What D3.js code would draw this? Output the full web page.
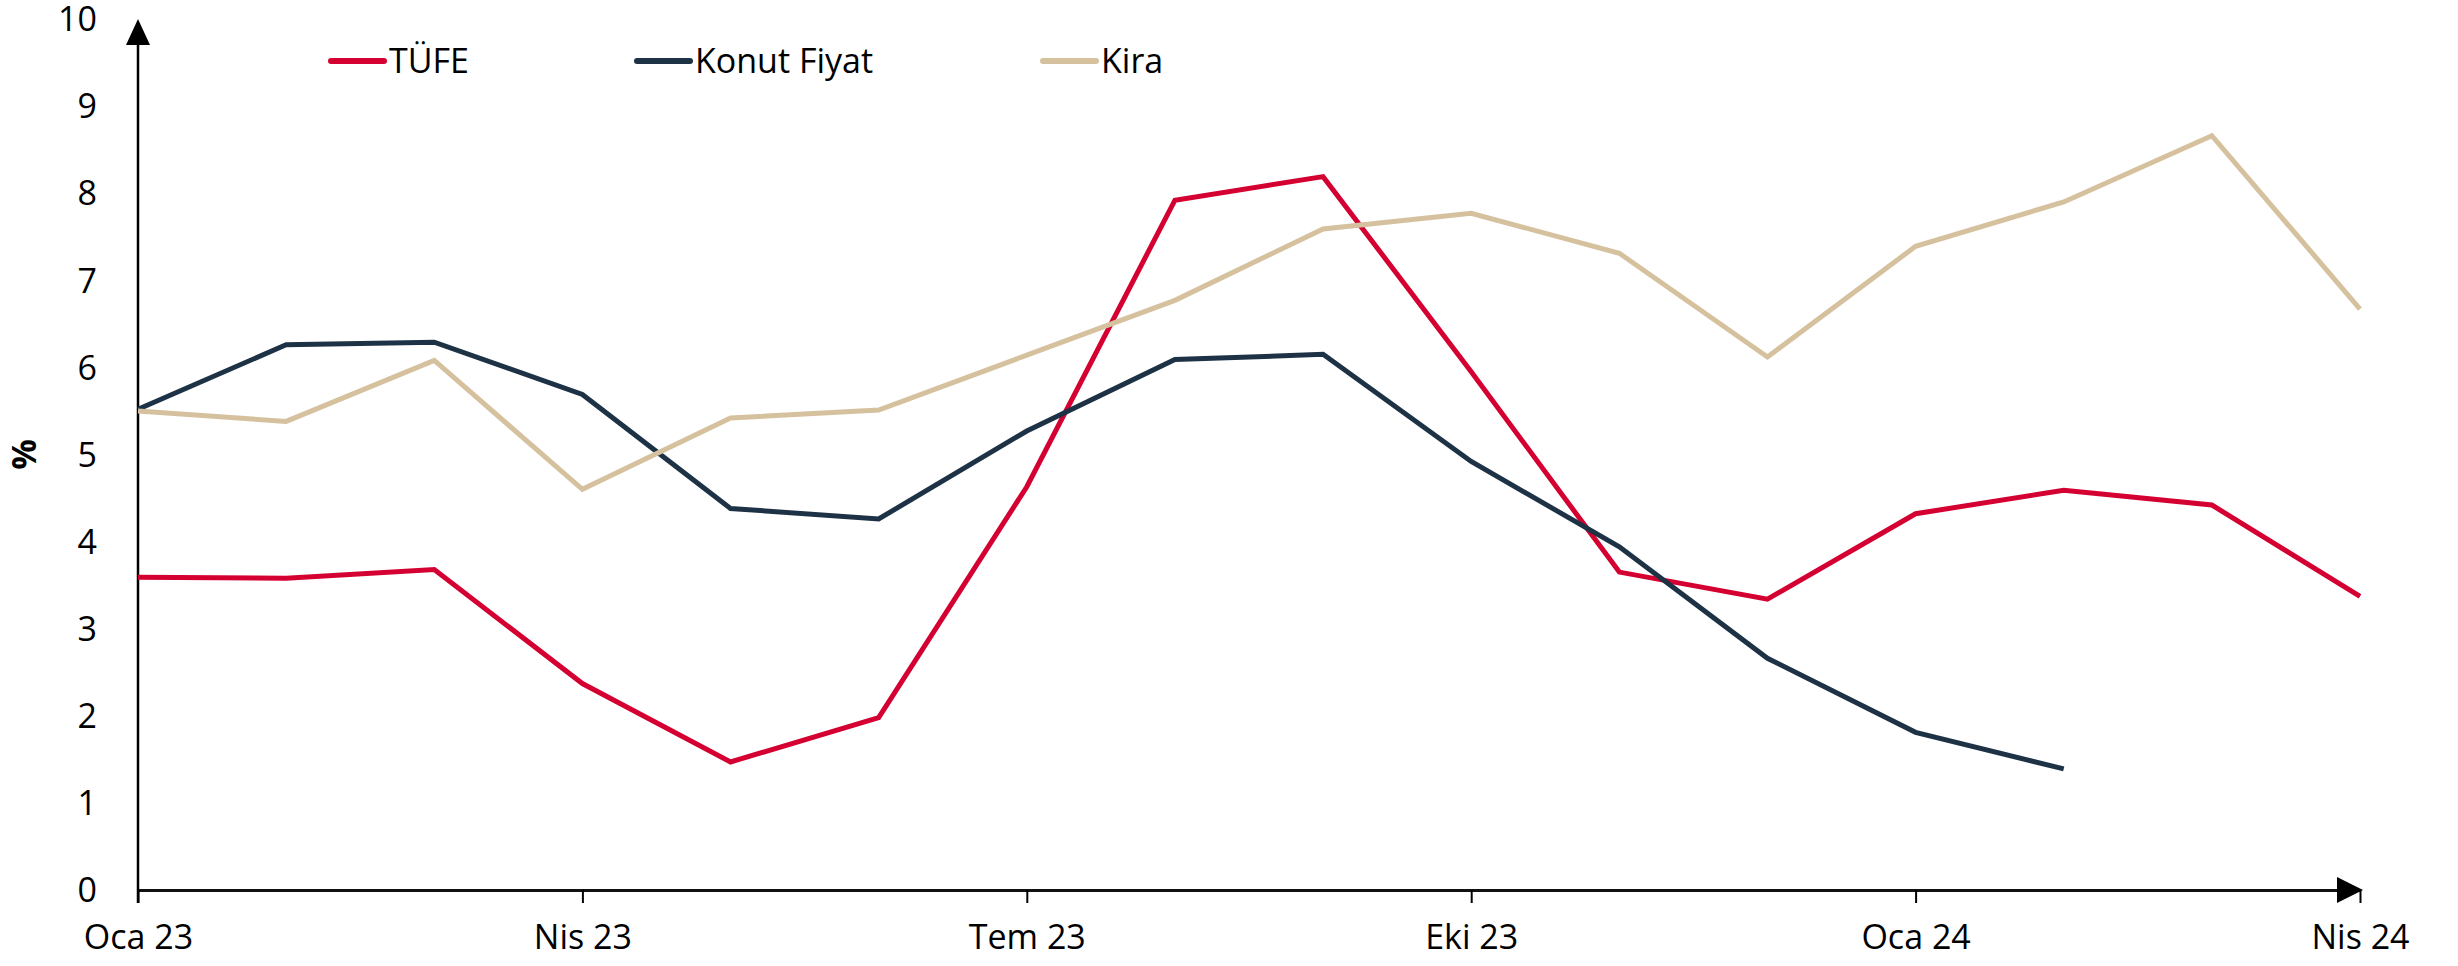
<!DOCTYPE html>
<html>
<head>
<meta charset="utf-8">
<script src="https://cdn.jsdelivr.net/npm/d3@7"></script>
<style>
  html, body { margin: 0; padding: 0; background: #fff; }
  svg { display: block; font-family: "Open Sans", "Noto Sans", sans-serif; }
</style>
</head>
<body>
<svg id="chart" width="2458" height="966"></svg>
<script>
// Monthly series, Jan 2023 – Apr 2024 (%)
const months = ["Oca 23","Şub 23","Mar 23","Nis 23","May 23","Haz 23","Tem 23","Ağu 23","Eyl 23","Eki 23","Kas 23","Ara 23","Oca 24","Şub 24","Mar 24","Nis 24"];
const tufe  = [3.59, 3.58, 3.68, 2.37, 1.47, 1.98, 4.63, 7.92, 8.19, 5.95, 3.65, 3.34, 4.32, 4.59, 4.42, 3.37];
const konut = [5.52, 6.26, 6.29, 5.69, 4.38, 4.26, 5.27, 6.09, 6.15, 4.92, 3.94, 2.66, 1.81, 1.39];
const kira  = [5.50, 5.38, 6.08, 4.60, 5.42, 5.51, 6.14, 6.77, 7.59, 7.77, 7.31, 6.12, 7.39, 7.90, 8.66, 6.67];
const seriesNames = ["TÜFE", "Konut Fiyat", "Kira"];
const yTicks = [0,1,2,3,4,5,6,7,8,9,10];
const xTickIdx = [0, 3, 6, 9, 12, 15];
const yLabel = "%";

const colors = ["#D50032", "#1E3246", "#D6C19F"];
const seriesData = [tufe, konut, kira];

const svg = d3.select("#chart");
const x = d3.scaleLinear().domain([0, months.length - 1]).range([138, 2360]);
const y = d3.scaleLinear().domain([0, 10]).range([890, 19]);

// Y tick labels
svg.append("g")
  .selectAll("text")
  .data(yTicks)
  .join("text")
  .attr("x", 97)
  .attr("y", d => y(d))
  .attr("dy", "0.36em")
  .attr("text-anchor", "end")
  .attr("font-size", 34)
  .attr("fill", "#000")
  .text(d => d);

// Y axis title
svg.append("text")
  .attr("transform", `translate(36,${(y(0) + y(10)) / 2}) rotate(-90)`)
  .attr("text-anchor", "middle")
  .attr("font-size", 34)
  .attr("font-weight", "bold")
  .attr("fill", "#000")
  .text(yLabel);

// X axis with quarterly ticks
const xAxis = d3.axisBottom(x)
  .tickValues(xTickIdx)
  .tickFormat(i => months[i])
  .tickSizeInner(13)
  .tickSizeOuter(0)
  .tickPadding(22);

const gx = svg.append("g")
  .attr("transform", `translate(0,${y(0)})`)
  .call(xAxis);
gx.select(".domain").attr("stroke", "#111").attr("stroke-width", 3);
gx.selectAll(".tick line").attr("stroke", "#000").attr("stroke-width", 2);
gx.selectAll(".tick text")
  .attr("font-size", 34)
  .attr("fill", "#000")
  .attr("font-family", "'Open Sans', 'Noto Sans', sans-serif");

// Y axis line
svg.append("line")
  .attr("x1", x(0)).attr("x2", x(0))
  .attr("y1", y(0) + 13).attr("y2", y(10) + 20)
  .attr("stroke", "#000").attr("stroke-width", 2.5);

// Arrow heads
svg.append("path")
  .attr("d", `M${x(0)},${y(10)} L${x(0) - 12},${y(10) + 26} L${x(0) + 12},${y(10) + 26} Z`)
  .attr("fill", "#000");
svg.append("path")
  .attr("d", `M${x(15) + 3},${y(0)} L${x(15) - 23},${y(0) - 13} L${x(15) - 23},${y(0) + 13} Z`)
  .attr("fill", "#000");

// Series lines
const line = d3.line().x((d, i) => x(i)).y(d => y(d));
svg.append("g")
  .selectAll("path")
  .data(seriesData)
  .join("path")
  .attr("d", d => line(d))
  .attr("fill", "none")
  .attr("stroke", (d, i) => colors[i])
  .attr("stroke-width", 5)
  .attr("stroke-linejoin", "miter");

// Legend
const legendX = [331, 637, 1043];
const lg = svg.append("g")
  .selectAll("g")
  .data(seriesNames)
  .join("g")
  .attr("transform", (d, i) => `translate(${legendX[i]},61)`);
lg.append("line")
  .attr("x1", 0).attr("x2", 53)
  .attr("y1", 0).attr("y2", 0)
  .attr("stroke", (d, i) => colors[i])
  .attr("stroke-width", 6)
  .attr("stroke-linecap", "round");
lg.append("text")
  .attr("x", 58)
  .attr("y", 0)
  .attr("dy", "0.36em")
  .attr("font-size", 34)
  .attr("fill", "#000")
  .text(d => d);
</script>
</body>
</html>
